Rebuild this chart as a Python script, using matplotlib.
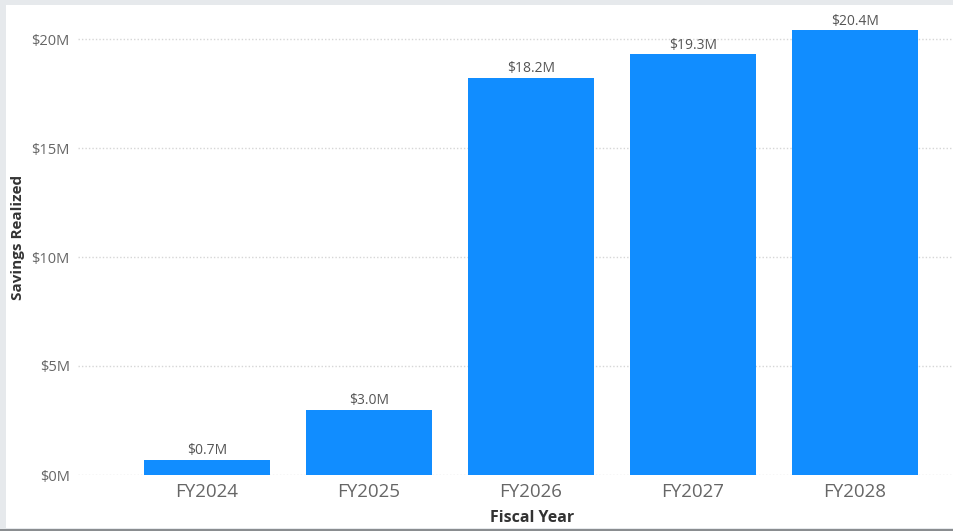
import matplotlib.pyplot as plt
from matplotlib.patches import Rectangle

years = ['FY2024', 'FY2025', 'FY2026', 'FY2027', 'FY2028']
savings = [0.7, 3.0, 18.2, 19.3, 20.4]  # $M
labels = ['$0.7M', '$3.0M', '$18.2M', '$19.3M', '$20.4M']
yticks = [0, 5, 10, 15, 20]

W, H = 954, 531
plt.rcParams['font.family'] = ['Open Sans', 'DejaVu Sans']

fig = plt.figure(figsize=(W / 100, H / 100), dpi=100)
fig.patch.set_facecolor('#e6e9ec')
# white panel
fig.patches.append(Rectangle((6 / W, 3 / H), 1, 1 - 8 / H, transform=fig.transFigure,
                             facecolor='white', edgecolor='none', zorder=-1))
fig.patches.append(Rectangle((0, 0), 1, 2 / H, transform=fig.transFigure,
                             facecolor='#8a8d90', edgecolor='none', zorder=-1))

ax = fig.add_axes([78 / W, (H - 475) / H, (W - 78) / W, (475 - 20) / H])
ax.set_facecolor('none')
ax.set_zorder(1)

x = list(range(len(years)))
ax.bar(x, savings, width=0.775, color='#118DFF', zorder=2)
for xi, v, lab in zip(x, savings, labels):
    ax.text(xi, v + 0.08, lab, ha='center', va='bottom', fontsize=10, color='#555555')

ax.set_xlim(-0.796, 4.611)
ax.set_ylim(0, (475 - 20) / 21.8)
ax.set_yticks(yticks)
ax.set_yticklabels(['$%dM' % t for t in yticks], fontsize=10.5, color='#666666')
ax.set_xticks(x)
ax.set_xticklabels(years, fontsize=13.5, color='#666666')
ax.tick_params(length=0)
ax.tick_params(axis='y', pad=6)
ax.tick_params(axis='x', pad=6)
ax.grid(axis='y', color='#d6d6d6', linestyle=(0, (1, 1.5)), linewidth=1, zorder=0)
ax.set_axisbelow(True)
for s in ax.spines.values():
    s.set_visible(False)

fig.text(532 / W, 1 - 518 / H, 'Fiscal Year', ha='center', va='center',
         fontsize=11.5, fontweight='bold', color='#333333')
fig.text(18 / W, 1 - 237 / H, 'Savings Realized', ha='center', va='center',
         rotation=90, fontsize=11, fontweight='bold', color='#333333')

fig.savefig('out.png', dpi=100, facecolor=fig.get_facecolor())
